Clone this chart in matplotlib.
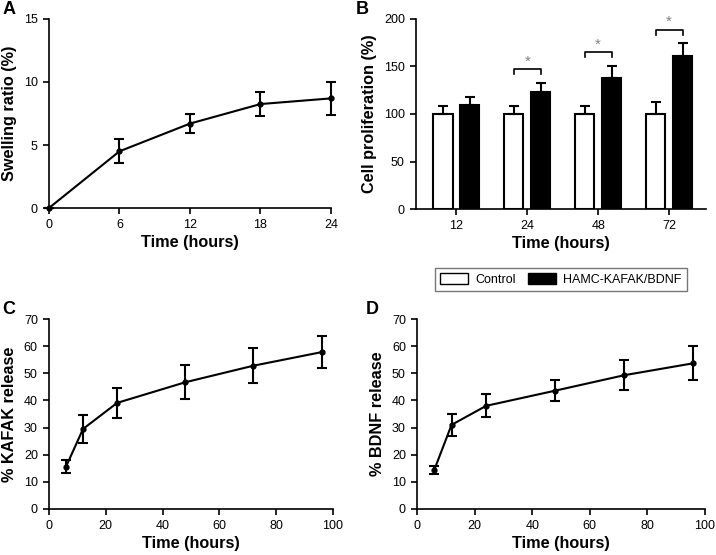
import matplotlib.pyplot as plt
import numpy as np
from matplotlib.patches import Patch

plt.rcParams['font.family'] = ['Liberation Sans', 'DejaVu Sans']

# A: swelling
swell_t = [0, 6, 12, 18, 24]
swell_v = [0, 4.5, 6.7, 8.25, 8.7]
swell_e = [0, 0.95, 0.73, 0.92, 1.3]

# B: proliferation
prolif_cats = ['12', '24', '48', '72']
ctrl_v = [100, 100, 100, 100]
ctrl_e = [8, 8, 8, 12.5]
hamc_v = [109.5, 123.5, 138, 160.7]
hamc_e = [8.5, 9.5, 13, 13.5]
sig_groups = [1, 2, 3]

# C: KAFAK release
rel_t = [6, 12, 24, 48, 72, 96]
kafak_v = [15.6, 29.5, 39.1, 46.7, 52.8, 57.8]
kafak_e = [2.3, 5.3, 5.5, 6.2, 6.4, 6.0]

# D: BDNF release
bdnf_v = [14.4, 31.0, 38.0, 43.6, 49.3, 53.7]
bdnf_e = [1.5, 4.0, 4.2, 3.9, 5.5, 6.2]

TICK = 9
LAB = 11.7

fig = plt.figure(figsize=(7.16, 5.55), dpi=100)


def style(ax):
    ax.spines['top'].set_visible(False)
    ax.spines['right'].set_visible(False)
    for s in ('left', 'bottom'):
        ax.spines[s].set_linewidth(1.2)
    ax.tick_params(direction='out', length=4, width=1.2, labelsize=TICK, pad=4)
    ax.set_xlabel('Time (hours)', fontsize=LAB, fontweight='bold', labelpad=3)


def line_panel(ax, x, y, e):
    ax.errorbar(x, y, yerr=e, color='black', lw=1.5, marker='o', ms=3.5,
                capsize=3.5, elinewidth=1.5, capthick=1.5, clip_on=False, zorder=3)
    style(ax)


# A
axA = fig.add_axes([0.0684, 0.6252, 0.3939, 0.3406])
line_panel(axA, swell_t, swell_v, swell_e)
axA.set_xlim(0, 24)
axA.set_ylim(0, 15)
axA.set_xticks([0, 6, 12, 18, 24])
axA.set_yticks([0, 5, 10, 15])
axA.set_ylabel('Swelling ratio (%)', fontsize=LAB, fontweight='bold', labelpad=5)

# B
axB = fig.add_axes([0.581, 0.6234, 0.405, 0.3424])
xpos = np.arange(len(prolif_cats))
off = 0.19
w = 0.27
axB.bar(xpos - off, ctrl_v, w, color='white', edgecolor='black', lw=1.5,
        yerr=[np.zeros(4), ctrl_e], error_kw=dict(lw=1.5, capsize=3.5, capthick=1.5))
axB.bar(xpos + off, hamc_v, w, color='black', edgecolor='black', lw=1.5,
        yerr=[np.zeros(4), hamc_e], error_kw=dict(lw=1.5, capsize=3.5, capthick=1.5))
for g in sig_groups:
    top = hamc_v[g] + hamc_e[g] + 14
    x0, x1 = g - off, g + off
    axB.plot([x0, x0, x1, x1], [top - 5, top, top, top - 5], color='black', lw=1.2)
    axB.text(g, top + 1, '*', ha='center', va='bottom', fontsize=11, color='#808080')
axB.set_xlim(-0.57, 3.52)
axB.set_ylim(0, 200)
axB.set_xticks(xpos)
axB.set_xticklabels(prolif_cats)
axB.set_yticks([0, 50, 100, 150, 200])
style(axB)
axB.set_ylabel('Cell proliferation (%)', fontsize=LAB, fontweight='bold', labelpad=5)

# legend
handles = [Patch(facecolor='white', edgecolor='black', lw=1),
           Patch(facecolor='black', edgecolor='black', lw=1)]
leg = fig.legend(handles, ['Control', 'HAMC-KAFAK/BDNF'], loc='center',
                 bbox_to_anchor=(0.7835, 0.4964), ncol=2, fontsize=9, frameon=True,
                 fancybox=False, edgecolor='#555555', handlelength=2.2, handleheight=0.9,
                 columnspacing=1.0, handletextpad=0.6, borderpad=0.45)
leg.get_frame().set_linewidth(1.0)

# C
axC = fig.add_axes([0.0684, 0.0829, 0.3967, 0.3423])
line_panel(axC, rel_t, kafak_v, kafak_e)
axC.set_xlim(0, 100)
axC.set_ylim(0, 70)
axC.set_xticks(range(0, 101, 20))
axC.set_yticks(range(0, 71, 10))
axC.set_ylabel('% KAFAK release', fontsize=LAB, fontweight='bold', labelpad=5)

# D
axD = fig.add_axes([0.5824, 0.0829, 0.4022, 0.3423])
line_panel(axD, rel_t, bdnf_v, bdnf_e)
axD.set_xlim(0, 100)
axD.set_ylim(0, 70)
axD.set_xticks(range(0, 101, 20))
axD.set_yticks(range(0, 71, 10))
axD.set_ylabel('% BDNF release', fontsize=LAB, fontweight='bold', labelpad=5)

for lbl, x, y in [('A', 0.003, 0.998), ('B', 0.497, 0.998), ('C', 0.003, 0.458), ('D', 0.511, 0.458)]:
    fig.text(x, y, lbl, fontsize=13, fontweight='bold', ha='left', va='top')

fig.savefig('out.png', dpi=100)
